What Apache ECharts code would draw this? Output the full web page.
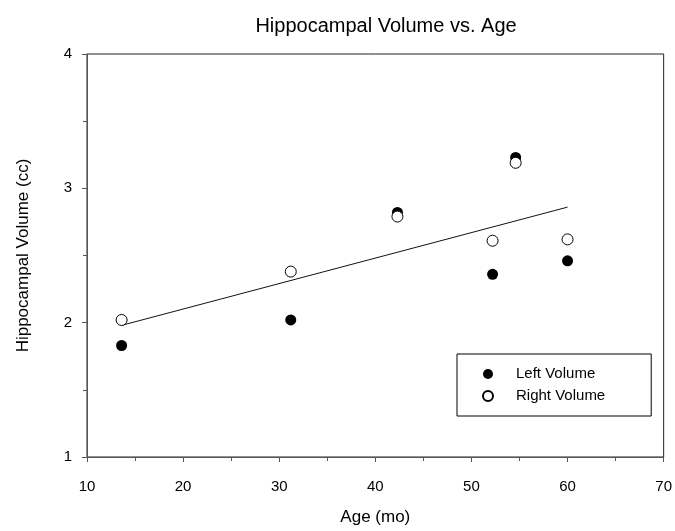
<!DOCTYPE html>
<html>
<head>
<meta charset="utf-8">
<script src="https://cdn.jsdelivr.net/npm/echarts@6/dist/echarts.min.js"></script>
<style>
  html, body { margin: 0; padding: 0; background: #fff; }
  #chart { width: 675px; height: 531px; }
</style>
</head>
<body>
<div id="chart"></div>
<script>
  // ages (months) of each subject
  const ages = [13.6, 31.2, 42.3, 52.2, 54.6, 60.0]
  const leftVolume = [1.83, 2.02, 2.82, 2.36, 3.23, 2.46]
  const rightVolume = [2.02, 2.38, 2.79, 2.61, 3.19, 2.62]
  // regression line end points (age, volume)
  const fitAges = [13.6, 60.0]
  const fitVolume = [1.98, 2.86]
  const xTicks = [10, 70, 10]   // min, max, step
  const yTicks = [1, 4, 1]

  const font = 'Liberation Sans, Arial, sans-serif'
  const pair = (xs, ys) => xs.map((x, i) => [x, ys[i]])

  let chart = echarts.init(document.getElementById('chart'))
  chart.setOption({
    animation: false,
    textStyle: { fontFamily: font },
    title: {
      text: 'Hippocampal Volume vs. Age',
      left: 381,
      top: 11,
      textAlign: 'center',
      textStyle: { fontFamily: font, fontSize: 20, fontWeight: 'normal', color: '#000' }
    },
    grid: {
      left: 87, right: 11, top: 54, bottom: 69,
      show: true,
      borderColor: '#222',
      borderWidth: 1
    },
    legend: {
      orient: 'vertical',
      left: 457,
      top: 354,
      padding: [12, 46, 12, 25],
      itemGap: 6,
      itemWidth: 10,
      itemHeight: 10,
      borderColor: '#000',
      borderWidth: 1,
      textStyle: { fontFamily: font, fontSize: 15, color: '#000', lineHeight: 16, padding: [0, 0, 0, 18] },
      data: ['Left Volume', 'Right Volume']
    },
    xAxis: {
      type: 'value',
      min: xTicks[0], max: xTicks[1], interval: xTicks[2],
      name: 'Age (mo)',
      nameLocation: 'middle',
      nameGap: 52,
      nameTextStyle: { fontFamily: font, fontSize: 17, color: '#000' },
      axisLine: { lineStyle: { color: '#555' } },
      axisTick: { length: 5, lineStyle: { color: '#555' } },
      minorTick: { show: true, splitNumber: 2, length: 4, lineStyle: { color: '#555' } },
      axisLabel: { margin: 22, fontSize: 15, color: '#000' },
      splitLine: { show: false }
    },
    yAxis: {
      type: 'value',
      min: yTicks[0], max: yTicks[1], interval: yTicks[2],
      name: 'Hippocampal Volume (cc)',
      nameLocation: 'middle',
      nameGap: 55,
      nameTextStyle: { fontFamily: font, fontSize: 17, color: '#000' },
      axisLine: { lineStyle: { color: '#555' } },
      axisTick: { length: 5, lineStyle: { color: '#555' } },
      minorTick: { show: true, splitNumber: 2, length: 4, lineStyle: { color: '#555' } },
      axisLabel: { margin: 15, fontSize: 15, color: '#000' },
      splitLine: { show: false }
    },
    series: [
      {
        name: 'fit',
        type: 'line',
        data: pair(fitAges, fitVolume),
        showSymbol: false,
        lineStyle: { color: '#111', width: 1 },
        z: 1
      },
      {
        name: 'Left Volume',
        type: 'scatter',
        data: pair(ages, leftVolume),
        symbol: 'circle',
        symbolSize: 11,
        itemStyle: { color: '#000', opacity: 1 },
        z: 2
      },
      {
        name: 'Right Volume',
        type: 'scatter',
        data: pair(ages, rightVolume),
        symbol: 'circle',
        symbolSize: 11,
        itemStyle: { color: '#fff', borderColor: '#000', borderWidth: 1, opacity: 1 },
        z: 3
      }
    ]
  })
</script>
</body>
</html>
